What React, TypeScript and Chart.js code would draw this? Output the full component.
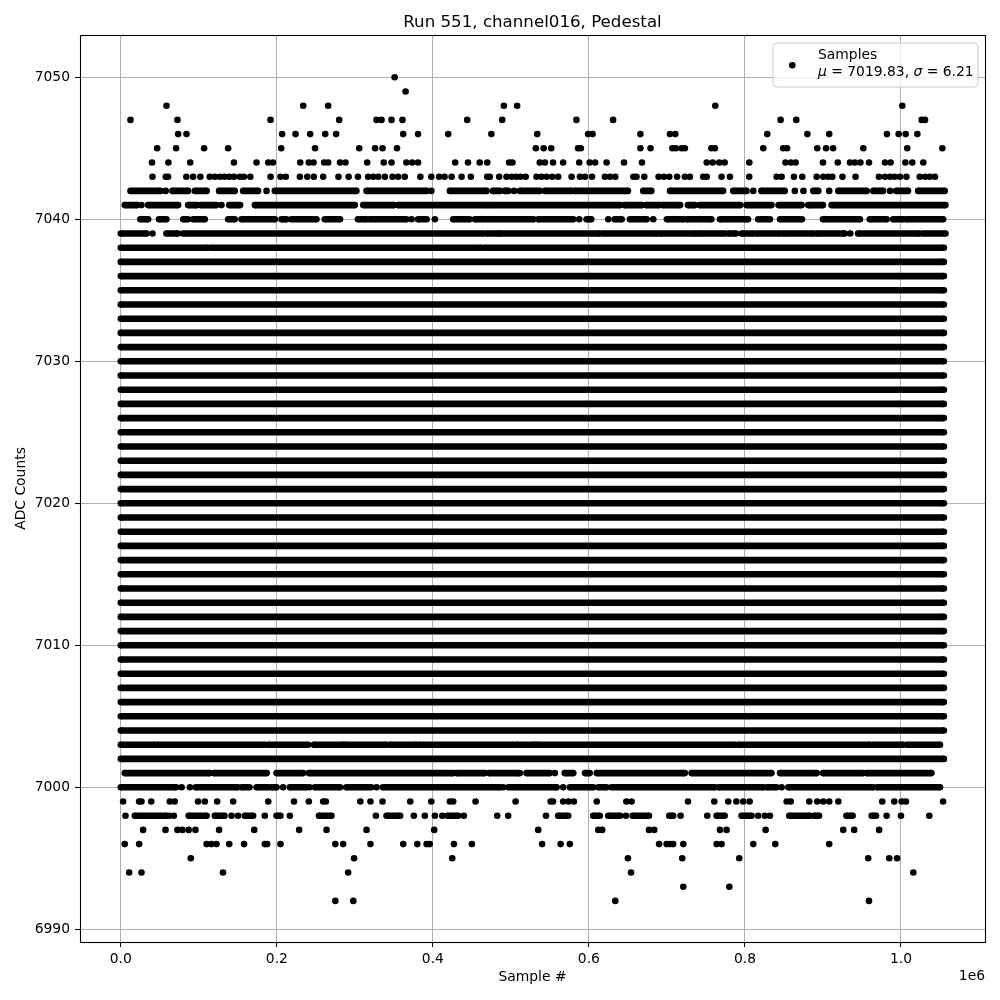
import React, { useEffect, useRef } from "react";
import { Chart, registerables } from "chart.js";

Chart.register(...registerables);

// x values are in thousands of samples
const titleText = "Run 551, channel016, Pedestal";
const xLabel = "Sample #";
const yLabel = "ADC Counts";
const xTicks = [0.0, 0.2, 0.4, 0.6, 0.8, 1.0];
const yTicks = [6990, 7000, 7010, 7020, 7030, 7040, 7050];
const legendName = "Samples";
const legendMu = "7019.83";
const legendSigma = "6.21";

// Rows that are filled from the first to the last sample
const solidRows = [
  7002, 7004, 7005, 7006, 7007, 7008, 7009, 7010, 7011, 7012, 7013, 7014,
  7015, 7016, 7017, 7018, 7019, 7020, 7021, 7022, 7023, 7024, 7025, 7026,
  7027, 7028, 7029, 7030, 7031, 7032, 7033, 7034, 7035, 7036, 7037,
];
const solidSpan: [number, number] = [0, 1055];

// Partially filled rows: runs of adjacent samples [start, end]
const seg7042: [number, number][] = [
  [12.4, 50.9], [57.6, 57.6], [66.2, 86.3], [95, 110], [126, 146], [156.8, 176],
  [186.8, 186.8], [197.4, 302], [315, 392], [398, 398], [421.8, 468.8], [477, 486],
  [492, 496.6], [504, 504], [511.5, 537], [543.6, 577.8], [582, 650], [669.6, 680],
  [704, 772], [785, 802], [810.7, 810.7], [821, 851], [864, 864], [875, 875],
  [887.6, 894], [908, 908], [919.7, 956], [964.5, 977], [986, 986], [994, 1009],
  [1022, 1056],
];
const seg7041: [number, number][] = [
  [5, 21], [26.5, 26.5], [35, 73.5], [86.3, 97.7], [102, 122.6], [129, 129],
  [139, 153], [171.8, 300], [310.7, 350], [355, 470], [472, 640], [645, 668],
  [673, 690], [694, 717], [727, 736], [742, 794], [802, 834], [843, 872.7],
  [881, 900], [911, 1057],
];
const seg7040: [number, number][] = [
  [25, 35], [49, 58.5], [80, 86], [92.7, 107.7], [137.6, 146], [154.7, 197.4],
  [206, 212.4], [218.8, 250.8], [261.5, 281], [304, 315], [319, 366], [372.7, 372.7],
  [381, 392], [402.6, 402.6], [426, 447], [454, 529], [535, 580], [587.6, 587.6],
  [597, 603], [624.8, 624.8], [633, 642], [652.6, 674], [682.5, 682.5], [700, 721],
  [725, 757], [768, 804], [817, 832], [845, 873], [900, 947.4], [960, 981.6],
  [990, 1003], [1007, 1054],
];
const seg7039: [number, number][] = [
  [0, 33], [40.6, 40.6], [58.5, 73.5], [80, 464.5], [469, 484], [486, 614],
  [618, 687], [691, 738], [741.5, 774], [778.6, 788.5], [795.8, 810.7], [815, 845],
  [849, 887.6], [892, 928], [935, 935], [945, 1024], [1028.6, 1057],
];
const seg7038: [number, number][] = [[0, 112], [116, 462], [466, 1055]];
const seg7003: [number, number][] = [
  [0, 43.6], [46.6, 184.6], [189, 240], [247.4, 285], [287, 340.6], [345, 379],
  [382.5, 503], [507, 531], [533, 787], [791.5, 960.6], [964.5, 1003], [1008, 1050],
];
const seg7001: [number, number][] = [
  [5, 114], [119, 187], [199.6, 233.7], [241, 426], [430, 466.7], [472, 511.5],
  [520, 550], [556.4, 556.4], [569, 580], [595, 601], [610, 723], [731.6, 834],
  [845, 892], [900, 951.6], [956, 1039],
];
const seg7000: [number, number][] = [
  [0, 71], [78, 78], [88.5, 88.5], [96, 150], [154.6, 165], [174, 189], [193, 199.6],
  [208, 208], [216.7, 238], [242, 242], [248.7, 281], [289, 321], [327.8, 327.8],
  [336, 486], [490, 490], [496.6, 558.6], [567, 567], [575.6, 605.5], [612, 622.6],
  [629, 761.5], [766, 823.5], [828, 840.6], [847, 847], [855.6, 964.5], [969, 1050],
];
const seg6998: [number, number][] = [
  [6, 6], [18, 58.5], [62, 62], [68, 68], [87, 110], [120.5, 133], [142, 142],
  [150.4, 150.4], [159, 169.6], [184.6, 184.6], [199.6, 204.7], [216.7, 216.7],
  [254, 270], [327, 327], [340.6, 358], [375.6, 375.6], [389.7, 389.7], [402.6, 402.6],
  [412, 412], [418.4, 432.4], [439.7, 439.7], [482.5, 482.5], [496.6, 496.6],
  [545, 545], [560.6, 573.5], [605.5, 614], [624.8, 640], [647.4, 647.4], [656, 677],
  [703, 708], [717.5, 717.5], [751.7, 751.7], [763.7, 774], [795.7, 808.5], [817, 817],
  [825.6, 825.6], [832, 832], [856.8, 883.3], [888.5, 895], [930, 938], [962.4, 968],
  [981.6, 981.6], [1000, 1000], [1036.3, 1036.3],
];

// Sparse rows: individual samples
const dots7050 = [351];
const dots7049 = [365];
const dots7048 = [58.6, 233.8, 265.8, 491, 508, 762, 1001.7];
const dots7047 = [
  12.4, 72.6, 191.9, 279.9, 327.8, 334.2, 347, 361, 444, 488.9, 584, 631, 845.7,
  865.8, 1026.5, 1030.8,
];
const dots7046 = [
  73.5, 84.2, 206.8, 224, 242.7, 262, 276, 362, 381, 419.7, 475, 533.8, 599, 604.7,
  666, 703.8, 710.7, 828.6, 880, 908, 982, 997, 1006, 1021,
];
const dots7045 = [
  46.6, 70.9, 106.8, 137.6, 205.6, 249, 305.6, 326, 335.5, 354, 532, 542, 551.7, 586,
  589.7, 666, 679, 707, 711.5, 718.8, 723, 757, 761.5, 823.5, 849, 854, 892.7, 904,
  913, 951.7, 1008, 1053,
];
const dots7044 = [
  40, 61, 89, 145, 174, 189, 195, 230, 241, 247, 260.7, 265.8, 281, 288, 315.8, 337,
  347, 366, 373.5, 381, 428.6, 445, 460, 469.7, 497.8, 502, 537, 543.6, 554, 567,
  587.6, 601, 608, 622.7, 645, 668, 751, 758.6, 767, 774, 805.6, 852, 859, 865, 900,
  919, 934.6, 941, 948, 959, 979.5, 986.7, 1005.6, 1014.5, 1028.6,
];
const dots7043 = [
  40.6, 57.7, 60.6, 84, 92.7, 102, 114, 120.5, 127, 133, 139, 145, 152.6, 157.7, 166,
  192, 204.7, 211.5, 229.5, 239, 247.4, 259.4, 279, 292, 304, 317, 323.5, 330, 338.5,
  348.3, 355.5, 364, 384, 398, 408, 415, 424, 436.8, 448.7, 469.6, 473, 485, 494.4,
  500.9, 507, 512.4, 519, 532.9, 539.3, 545.7, 553, 560.6, 577.8, 588.5, 595, 604,
  620.5, 627, 633.8, 657, 661, 671, 689.3, 696, 703, 713, 723, 729.5, 746.5, 751, 770,
  780.8, 805.5, 840.6, 847, 862.8, 873.5, 891.9, 900.4, 906.8, 912, 925, 941.8, 971.8,
  979.5, 986, 992, 998.7, 1007, 1024, 1031, 1037, 1043.6,
];
const dots6999 = [
  3, 23.5, 26.5, 39, 62.8, 69, 99, 107.7, 123.5, 144, 189, 222, 241, 259.4, 262.8, 307,
  320, 335.5, 371, 398, 421.8, 426, 454.7, 506, 551, 554, 567, 574, 580.8, 610, 648,
  654.7, 727, 760.7, 778.6, 789, 797.8, 806, 853.5, 858.6, 882.5, 892.7, 900.4, 908,
  919.7, 976, 991.4, 1000.9, 1006.4, 1054,
];
const dots6997 = [
  28.6, 57.3, 72.6, 79, 87, 95.7, 126, 171, 228.6, 263.7, 315, 401.7, 535, 612, 617,
  677, 683.7, 768, 776.5, 826.5, 926, 940, 972,
];
const dots6996 = [
  5, 23.5, 110, 116, 122.6, 139, 158, 184.6, 187.6, 204.7, 275, 285, 320, 362, 380, 392,
  396, 427, 450, 540, 563.7, 575.6, 690, 699.6, 704, 708, 721, 763.7, 770, 810.7,
  838.9, 908,
];
const dots6995 = [89.7, 299, 424.8, 650, 719.6, 792.7, 958, 985, 995];
const dots6994 = [10.7, 26.5, 131, 291.4, 654, 1015.8];
const dots6993 = [721, 780];
const dots6992 = [275, 298, 633.8, 959];

const segmentRows: [number, [number, number][]][] = [
  [7042, seg7042], [7041, seg7041], [7040, seg7040], [7039, seg7039], [7038, seg7038],
  [7003, seg7003], [7001, seg7001], [7000, seg7000], [6998, seg6998],
];
const dotRows: [number, number[]][] = [
  [7050, dots7050], [7049, dots7049], [7048, dots7048], [7047, dots7047],
  [7046, dots7046], [7045, dots7045], [7044, dots7044], [7043, dots7043],
  [6999, dots6999], [6997, dots6997], [6996, dots6996], [6995, dots6995],
  [6994, dots6994], [6993, dots6993], [6992, dots6992],
];

const FONT = "'DejaVu Sans', Verdana, sans-serif";
const DOT_R = 3.3;
const BAND_W = 6.6;

function buildDatasets() {
  const ds: any[] = [];
  const lineStyle = {
    showLine: true,
    borderColor: "#000",
    backgroundColor: "#000",
    borderWidth: BAND_W,
    pointRadius: DOT_R,
    pointBorderWidth: 0,
    pointHoverRadius: DOT_R,
    spanGaps: false,
    borderCapStyle: "butt",
  };
  for (const y of solidRows) {
    ds.push({
      ...lineStyle,
      data: [
        { x: solidSpan[0] * 1000, y },
        { x: solidSpan[1] * 1000, y },
      ],
    });
  }
  for (const [y, segs] of segmentRows) {
    const data: any[] = [];
    segs.forEach(([a, b], i) => {
      if (i > 0) data.push({ x: a * 1000, y: null });
      data.push({ x: a * 1000, y });
      if (b !== a) data.push({ x: b * 1000, y });
    });
    ds.push({ ...lineStyle, data });
  }
  for (const [y, xs] of dotRows) {
    ds.push({
      showLine: false,
      borderColor: "#000",
      backgroundColor: "#000",
      pointRadius: DOT_R,
      pointBorderWidth: 0,
      pointHoverRadius: DOT_R,
      data: xs.map((k) => ({ x: k * 1000, y })),
    });
  }
  return ds;
}

const decorPlugin = {
  id: "decor",
  afterDraw(chart: any) {
    const ctx = chart.ctx as CanvasRenderingContext2D;
    const a = chart.chartArea;
    ctx.save();
    // frame
    ctx.strokeStyle = "#000";
    ctx.lineWidth = 1.1;
    ctx.strokeRect(a.left + 0.5, a.top + 0.5, a.right - a.left, a.bottom - a.top);
    const cx = (a.left + a.right) / 2;
    ctx.fillStyle = "#000";
    // title
    ctx.font = `16.67px ${FONT}`;
    ctx.textAlign = "center";
    ctx.textBaseline = "alphabetic";
    ctx.fillText(titleText, cx, 27);
    // x label
    ctx.font = `13.89px ${FONT}`;
    ctx.textBaseline = "middle";
    ctx.fillText(xLabel, cx, 977);
    // offset text
    ctx.textAlign = "right";
    ctx.fillText("1e6", a.right, 976);
    // y label
    ctx.save();
    ctx.translate(21, (a.top + a.bottom) / 2);
    ctx.rotate(-Math.PI / 2);
    ctx.textAlign = "center";
    ctx.fillText(yLabel, 0, 0);
    ctx.restore();
    // legend
    const bx = 773, by = 43, bw = 205, bh = 44, r = 4;
    ctx.beginPath();
    ctx.moveTo(bx + r, by);
    ctx.lineTo(bx + bw - r, by);
    ctx.arcTo(bx + bw, by, bx + bw, by + r, r);
    ctx.lineTo(bx + bw, by + bh - r);
    ctx.arcTo(bx + bw, by + bh, bx + bw - r, by + bh, r);
    ctx.lineTo(bx + r, by + bh);
    ctx.arcTo(bx, by + bh, bx, by + bh - r, r);
    ctx.lineTo(bx, by + r);
    ctx.arcTo(bx, by, bx + r, by, r);
    ctx.closePath();
    ctx.fillStyle = "rgba(255,255,255,0.8)";
    ctx.fill();
    ctx.strokeStyle = "#cccccc";
    ctx.lineWidth = 1;
    ctx.stroke();
    ctx.fillStyle = "#000";
    ctx.beginPath();
    ctx.arc(792.3, 65.3, DOT_R, 0, Math.PI * 2);
    ctx.fill();
    ctx.textAlign = "left";
    ctx.textBaseline = "alphabetic";
    ctx.font = `13.89px ${FONT}`;
    ctx.fillText(legendName, 818, 59);
    let x = 818;
    const y2 = 75.5;
    const parts: [string, boolean][] = [
      ["μ", true],
      [" = " + legendMu + ", ", false],
      ["σ", true],
      [" = " + legendSigma, false],
    ];
    for (const [t, it] of parts) {
      ctx.font = `${it ? "italic " : ""}13.89px ${FONT}`;
      ctx.fillText(t, x, y2);
      x += ctx.measureText(t).width;
    }
    ctx.restore();
  },
};

export default function App() {
  const ref = useRef<HTMLCanvasElement | null>(null);
  useEffect(() => {
    document.body.style.margin = "0";
    const canvas = ref.current!;
    const chart = new Chart(canvas, {
      type: "scatter",
      data: { datasets: buildDatasets() },
      options: {
        animation: false,
        responsive: false,
        devicePixelRatio: 1,
        events: [],
        layout: { padding: { left: 0, top: 35, right: 15, bottom: 0 } },
        plugins: {
          legend: { display: false },
          tooltip: { enabled: false },
          title: { display: false },
        },
        scales: {
          x: {
            type: "linear",
            min: -52300,
            max: 1107700,
            afterFit: (s: any) => {
              s.height = 58;
            },
            afterBuildTicks: (s: any) => {
              s.ticks = xTicks.map((v) => ({ value: v * 1e6 }));
            },
            ticks: {
              autoSkip: false,
              maxRotation: 0,
              padding: 4,
              color: "#000",
              font: { family: FONT, size: 13.89 },
              callback: (v: any) => (Number(v) / 1e6).toFixed(1),
            },
            grid: {
              color: "#b0b0b0",
              lineWidth: 1,
              tickColor: "#000",
              tickLength: 5,
              tickWidth: 1.1,
            },
            border: { display: false },
          },
          y: {
            type: "linear",
            min: 6989.106,
            max: 7052.98,
            afterFit: (s: any) => {
              s.width = 80;
            },
            afterBuildTicks: (s: any) => {
              s.ticks = yTicks.map((v) => ({ value: v }));
            },
            ticks: {
              autoSkip: false,
              padding: 5,
              color: "#000",
              font: { family: FONT, size: 13.89 },
              callback: (v: any) => String(v),
            },
            grid: {
              color: "#b0b0b0",
              lineWidth: 1,
              tickColor: "#000",
              tickLength: 5,
              tickWidth: 1.1,
            },
            border: { display: false },
          },
        },
      },
      plugins: [decorPlugin],
    } as any);
    return () => chart.destroy();
  }, []);
  return (
    <div style={{ position: "absolute", left: 0, top: 0, width: 1000, height: 1000, background: "#fff" }}>
      <canvas ref={ref} width={1000} height={1000} style={{ width: 1000, height: 1000, display: "block" }} />
    </div>
  );
}
